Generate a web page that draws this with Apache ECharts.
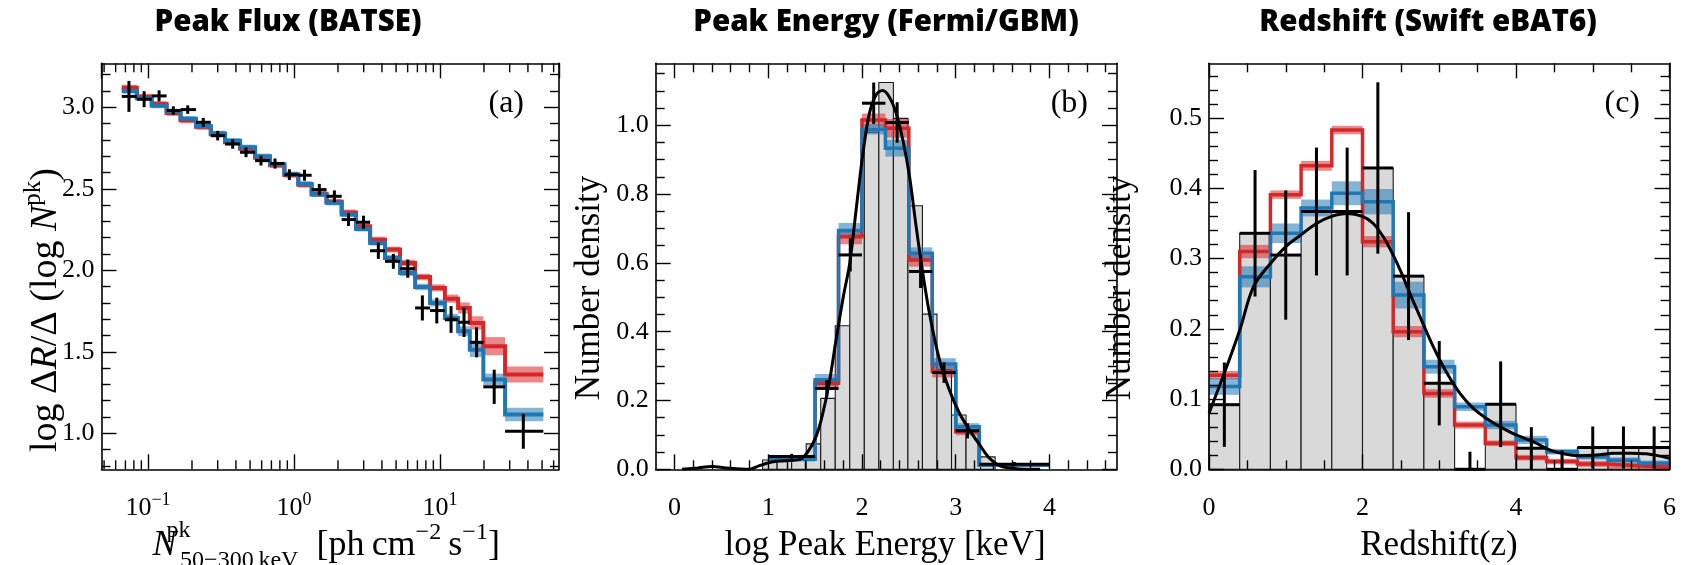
<!DOCTYPE html>
<html>
<head>
<meta charset="utf-8">
<title>GRB population model fits</title>
<script src="https://cdn.jsdelivr.net/npm/echarts@6.0.0/dist/echarts.min.js"></script>
<style>
html,body{margin:0;padding:0;background:#ffffff;}
#chart{width:1690px;height:565px;}
</style>
</head>
<body>
<div id="chart"></div>
<script>
// ================= Panel (a): Peak Flux (BATSE) =================
const aEdges = [0.0661, 0.0838, 0.106, 0.134, 0.167, 0.213, 0.269, 0.337, 0.427, 0.541, 0.685, 0.859, 1.07, 1.32, 1.67, 2.12, 2.66, 3.32, 4.20, 5.32, 6.75, 8.55, 10.8, 13.3, 16.0, 19.8, 27.9, 51.0];
const aX = [0.074, 0.094, 0.119, 0.149, 0.187, 0.239, 0.30, 0.38, 0.469, 0.594, 0.741, 0.929, 1.18, 1.49, 1.89, 2.36, 2.99, 3.78, 4.79, 6.01, 7.57, 9.5, 11.9, 14.6, 17.8, 23.5, 37.2];
const aY = [3.067, 3.05, 3.07, 2.98, 2.986, 2.908, 2.826, 2.775, 2.724, 2.673, 2.655, 2.587, 2.583, 2.495, 2.454, 2.311, 2.295, 2.12, 2.055, 2.01, 1.769, 1.753, 1.698, 1.681, 1.558, 1.285, 1.012];
const aErr = [0.095, 0.049, 0.034, 0.026, 0.026, 0.027, 0.029, 0.029, 0.03, 0.03, 0.031, 0.033, 0.034, 0.035, 0.036, 0.039, 0.04, 0.05, 0.046, 0.056, 0.077, 0.079, 0.082, 0.09, 0.092, 0.105, 0.107];
const aRed = [3.12, 3.065, 3.02, 2.965, 2.92, 2.88, 2.835, 2.785, 2.745, 2.69, 2.645, 2.585, 2.525, 2.47, 2.42, 2.355, 2.27, 2.188, 2.127, 2.045, 1.959, 1.892, 1.826, 1.769, 1.677, 1.534, 1.36];
const aRedErr = [0.018, 0.018, 0.018, 0.018, 0.018, 0.018, 0.018, 0.018, 0.018, 0.018, 0.018, 0.018, 0.018, 0.018, 0.018, 0.018, 0.018, 0.018, 0.018, 0.02, 0.02, 0.022, 0.025, 0.034, 0.041, 0.056, 0.049];
const aBlue = [3.10, 3.055, 3.01, 2.975, 2.93, 2.885, 2.84, 2.795, 2.755, 2.70, 2.65, 2.59, 2.53, 2.465, 2.414, 2.342, 2.254, 2.168, 2.076, 1.984, 1.898, 1.80, 1.708, 1.626, 1.513, 1.33, 1.115];
const aBlueErr = [0.016, 0.016, 0.016, 0.016, 0.016, 0.016, 0.016, 0.016, 0.016, 0.016, 0.016, 0.016, 0.016, 0.016, 0.016, 0.016, 0.016, 0.016, 0.018, 0.02, 0.02, 0.022, 0.025, 0.03, 0.045, 0.036, 0.041];
const aXMinor = [0.05, 0.06, 0.07, 0.08, 0.09, 0.2, 0.3, 0.4, 0.5, 0.6, 0.7, 0.8, 0.9, 2, 3, 4, 5, 6, 7, 8, 9, 20, 30, 40, 50, 60];
const aYMajor = [1.0, 1.5, 2.0, 2.5, 3.0];
const aYMinor = [0.8, 0.9, 1.1, 1.2, 1.3, 1.4, 1.6, 1.7, 1.8, 1.9, 2.1, 2.2, 2.3, 2.4, 2.6, 2.7, 2.8, 2.9, 3.1, 3.2];

// ================= Panel (b): Peak Energy (Fermi/GBM) =================
const bHistEdges = [0.94, 1.095, 1.25, 1.405, 1.56, 1.715, 1.87, 2.025, 2.18, 2.335, 2.49, 2.645, 2.8, 2.955, 3.11, 3.265, 3.42];
const bHist = [0.027, 0.03, 0.03, 0.074, 0.206, 0.417, 0.68, 0.98, 1.124, 1.02, 0.766, 0.451, 0.29, 0.158, 0.11, 0.036];
const bEdges = [1.0, 1.5, 1.75, 2.0, 2.25, 2.5, 2.75, 3.0, 3.25, 4.0];
const bX = [1.25, 1.625, 1.875, 2.125, 2.375, 2.625, 2.875, 3.125, 3.625];
const bY = [0.037, 0.235, 0.623, 1.064, 1.008, 0.575, 0.281, 0.112, 0.015];
const bErr = [0.008, 0.024, 0.048, 0.06, 0.059, 0.048, 0.03, 0.022, 0.006];
const bRed = [0.032, 0.25, 0.676, 1.015, 0.991, 0.608, 0.284, 0.109, 0.013];
const bRedErr = [0.006, 0.015, 0.022, 0.019, 0.027, 0.019, 0.017, 0.01, 0.004];
const bBlue = [0.029, 0.26, 0.694, 0.988, 0.933, 0.628, 0.306, 0.124, 0.012];
const bBlueErr = [0.006, 0.017, 0.022, 0.015, 0.024, 0.017, 0.017, 0.01, 0.004];
const bKdeX = [0.08, 0.25, 0.4, 0.55, 0.7, 0.8, 0.9, 1.05, 1.19, 1.33, 1.42, 1.51, 1.58, 1.65, 1.72, 1.8, 1.87, 1.94, 2.01, 2.08, 2.15, 2.22, 2.29, 2.365, 2.436, 2.507, 2.578, 2.649, 2.72, 2.827, 2.933, 3.04, 3.147, 3.253, 3.36, 3.467, 3.6, 3.75, 3.9];
const bKdeY = [0.0, 0.004, 0.008, 0.004, 0.001, 0.0, 0.01, 0.022, 0.025, 0.028, 0.05, 0.095, 0.16, 0.25, 0.37, 0.5, 0.6, 0.76, 0.918, 1.035, 1.088, 1.101, 1.083, 1.035, 0.957, 0.851, 0.705, 0.57, 0.453, 0.318, 0.23, 0.163, 0.114, 0.072, 0.032, 0.011, 0.003, 0.0, 0.0];
const bXMajor = [0, 1, 2, 3, 4];
const bXMinor = [0.2, 0.4, 0.6, 0.8, 1.2, 1.4, 1.6, 1.8, 2.2, 2.4, 2.6, 2.8, 3.2, 3.4, 3.6, 3.8, 4.2, 4.4, 4.6];
const bYMajor = [0, 0.2, 0.4, 0.6, 0.8, 1.0];
const bYMinor = [0.05, 0.1, 0.15, 0.25, 0.3, 0.35, 0.45, 0.5, 0.55, 0.65, 0.7, 0.75, 0.85, 0.9, 0.95, 1.05, 1.1, 1.15];

// ================= Panel (c): Redshift (Swift eBAT6) =================
const cEdges = [0, 0.4, 0.8, 1.2, 1.6, 2.0, 2.4, 2.8, 3.2, 3.6, 4.0, 4.4, 4.8, 5.2, 5.6, 6.0];
const cX = [0.2, 0.6, 1.0, 1.4, 1.8, 2.2, 2.6, 3.0, 3.4, 3.8, 4.2, 4.6, 5.0, 5.4, 5.8];
const cY = [0.092, 0.336, 0.305, 0.367, 0.367, 0.429, 0.275, 0.1225, 0, 0.0926, 0.03, 0, 0.031, 0.031, 0.031];
const cErr = [0.06, 0.09, 0.092, 0.091, 0.091, 0.122, 0.091, 0.06, 0.025, 0.061, 0.03, 0.027, 0.03, 0.03, 0.03];
const cRed = [0.134, 0.31, 0.391, 0.432, 0.483, 0.324, 0.196, 0.108, 0.063, 0.037, 0.0166, 0.011, 0.0076, 0.005, 0.003];
const cRedErr = [0.006, 0.0095, 0.006, 0.007, 0.006, 0.008, 0.008, 0.006, 0.005, 0.004, 0.004, 0.004, 0.004, 0.004, 0.004];
const cBlue = [0.118, 0.274, 0.336, 0.372, 0.393, 0.381, 0.248, 0.146, 0.089, 0.063, 0.0417, 0.025, 0.018, 0.013, 0.0085];
const cBlueErr = [0.012, 0.015, 0.014, 0.012, 0.017, 0.018, 0.019, 0.01, 0.006, 0.006, 0.006, 0.004, 0.004, 0.004, 0.004];
const cKdeX = [0.0, 0.2, 0.4, 0.58, 0.8, 1.0, 1.2, 1.4, 1.6, 1.8, 2.0, 2.14, 2.27, 2.4, 2.51, 2.58, 2.75, 2.92, 3.1, 3.27, 3.44, 3.62, 3.8, 4.0, 4.23, 4.42, 4.62, 4.83, 5.05, 5.27, 5.49, 5.7, 6.0];
const cKdeY = [0.08, 0.137, 0.198, 0.26, 0.293, 0.317, 0.334, 0.35, 0.36, 0.364, 0.36, 0.35, 0.331, 0.305, 0.279, 0.26, 0.217, 0.175, 0.137, 0.108, 0.087, 0.072, 0.06, 0.049, 0.039, 0.0285, 0.022, 0.0194, 0.0204, 0.0228, 0.023, 0.022, 0.0157];
const cXMajor = [0, 2, 4, 6];
const cXMinor = [0.5, 1, 1.5, 2.5, 3, 3.5, 4.5, 5, 5.5];
const cYMajor = [0, 0.1, 0.2, 0.3, 0.4, 0.5];
const cYMinor = [0.02, 0.04, 0.06, 0.08, 0.12, 0.14, 0.16, 0.18, 0.22, 0.24, 0.26, 0.28, 0.32, 0.34, 0.36, 0.38, 0.42, 0.44, 0.46, 0.48, 0.52, 0.54, 0.56];

// ================= Styling =================
const SERIF = '"Liberation Serif", "DejaVu Serif", serif';
const SANS = '"Open Sans", Lato, "Noto Sans", sans-serif';
const RED = '#d62728', BLUE = '#1f77b4';
const RED_BAND = 'rgba(214,39,40,0.55)', BLUE_BAND = 'rgba(31,119,180,0.55)';
const HIST_FILL = '#d9d9d9';
const TICK_FS = 26, TITLE_FS = 35;

const grids = [
  {left: 101.5, top: 63.3, width: 457.5, height: 406},
  {left: 655.7, top: 63.3, width: 461.3, height: 406},
  {left: 1209, top: 63.3, width: 460.5, height: 406}
];

const LINE = {show: true, onZero: false, lineStyle: {color: '#000', width: 1.6}};
const NOLINE = {show: false, onZero: false};
function tick(vals, len) {
  const t = {show: true, inside: true, length: len, lineStyle: {color: '#000', width: 1.4}};
  if (vals) t.customValues = vals;
  return t;
}
const labelBase = {color: '#000', fontFamily: SERIF, fontSize: TICK_FS};

function valueX(grid, min, max, major, minor, fmt) {
  const c = {gridIndex: grid, type: 'value', min, max, z: 10, splitLine: {show: false}, axisPointer: {show: false}};
  return [
    Object.assign({}, c, {position: 'bottom', axisLine: LINE, axisTick: tick(major, 15),
      axisLabel: Object.assign({show: true, customValues: major, formatter: fmt, margin: 26}, labelBase)}),
    Object.assign({}, c, {position: 'top', axisLine: LINE, axisTick: tick(major, 15), axisLabel: {show: false}}),
    Object.assign({}, c, {position: 'bottom', axisLine: NOLINE, axisTick: tick(minor, 9), axisLabel: {show: false}}),
    Object.assign({}, c, {position: 'top', axisLine: NOLINE, axisTick: tick(minor, 9), axisLabel: {show: false}})
  ];
}
function logX(grid, min, max) {
  const c = {gridIndex: grid, type: 'log', logBase: 10, min, max, z: 10, splitLine: {show: false}, axisPointer: {show: false}};
  const fmt = function (v) {
    const e = Math.round(Math.log10(v));
    return '{b|10}{s|' + (e < 0 ? '\u2212' + (-e) : e) + '}';
  };
  return [
    Object.assign({}, c, {position: 'bottom', axisLine: LINE, axisTick: tick(null, 15),
      axisLabel: {show: true, showMinLabel: false, showMaxLabel: false, formatter: fmt, margin: 22,
        rich: {b: Object.assign({}, labelBase), s: {color: '#000', fontFamily: SERIF, fontSize: 18, padding: [0, 0, 16, 0]}}}}),
    Object.assign({}, c, {position: 'top', axisLine: LINE, axisTick: tick(null, 15), axisLabel: {show: false}}),
    Object.assign({}, c, {show: false}),
    Object.assign({}, c, {show: false})
  ];
}
function valueY(grid, min, max, major, minor, fmt) {
  const c = {gridIndex: grid, type: 'value', min, max, z: 10, splitLine: {show: false}, axisPointer: {show: false}};
  return [
    Object.assign({}, c, {position: 'left', axisLine: LINE, axisTick: tick(major, 15),
      axisLabel: Object.assign({show: true, customValues: major, formatter: fmt, margin: 7}, labelBase)}),
    Object.assign({}, c, {position: 'right', axisLine: LINE, axisTick: tick(major, 15), axisLabel: {show: false}}),
    Object.assign({}, c, {position: 'left', axisLine: NOLINE, axisTick: tick(minor, 9), axisLabel: {show: false}}),
    Object.assign({}, c, {position: 'right', axisLine: NOLINE, axisTick: tick(minor, 9), axisLabel: {show: false}})
  ];
}
const f1 = v => v.toFixed(1);
const f0 = v => String(Math.round(v));

const xAxes = [].concat(
  logX(0, 0.048, 65.3),
  valueX(1, -0.2, 4.72, bXMajor, bXMinor, f0),
  valueX(2, 0, 6, cXMajor, cXMinor, f0)
);
const yAxes = [].concat(
  valueY(0, 0.779, 3.27, aYMajor, aYMinor, f1),
  valueY(1, 0, 1.18, bYMajor, bYMinor, f1),
  valueY(2, 0, 0.578, cYMajor, cYMinor, f1)
);

// ================= Series builders =================
function histSeries(ax, edges, vals) {
  return {type: 'custom', xAxisIndex: ax, yAxisIndex: ax, silent: true, z: 2,
    data: vals.map((v, i) => [edges[i], edges[i + 1], v]),
    renderItem: function (p, api) {
      const a = api.coord([api.value(0), api.value(2)]);
      const b = api.coord([api.value(1), 0]);
      return {type: 'rect', shape: {x: a[0], y: a[1], width: b[0] - a[0], height: b[1] - a[1]},
        style: {fill: HIST_FILL, stroke: '#1a1a1a', lineWidth: 1.1}};
    }};
}
function bandSeries(ax, edges, vals, errs, color, z) {
  return {type: 'custom', xAxisIndex: ax, yAxisIndex: ax, silent: true, z: z,
    data: vals.map((v, i) => [edges[i], edges[i + 1], v - errs[i], v + errs[i]]),
    renderItem: function (p, api) {
      const a = api.coord([api.value(0), api.value(3)]);
      const b = api.coord([api.value(1), api.value(2)]);
      return {type: 'rect', shape: {x: a[0], y: a[1], width: b[0] - a[0], height: b[1] - a[1]},
        style: {fill: color}};
    }};
}
function stepSeries(ax, edges, vals, color, w, z) {
  const data = vals.map((v, i) => [edges[i], v]);
  data.push([edges[edges.length - 1], vals[vals.length - 1]]);
  return {type: 'line', step: 'end', xAxisIndex: ax, yAxisIndex: ax, data: data, silent: true, z: z,
    symbol: 'none', showSymbol: false, lineStyle: {color: color, width: w, join: 'miter'}};
}
function kdeSeries(ax, xs, ys) {
  return {type: 'line', xAxisIndex: ax, yAxisIndex: ax, silent: true, z: 6, smooth: 0.35,
    data: xs.map((x, i) => [x, ys[i]]), symbol: 'none', showSymbol: false,
    lineStyle: {color: '#000', width: 3}};
}
function crossSeries(ax, edges, xs, ys, errs, w) {
  return {type: 'custom', xAxisIndex: ax, yAxisIndex: ax, silent: true, z: 7,
    data: ys.map((y, i) => [edges[i], edges[i + 1], y, xs[i], errs[i]]),
    renderItem: function (p, api) {
      const y = api.value(2), e = api.value(4);
      const l = api.coord([api.value(0), y]);
      const r = api.coord([api.value(1), y]);
      const t = api.coord([api.value(3), y + e]);
      const b = api.coord([api.value(3), Math.max(0, y - e)]);
      return {type: 'group', children: [
        {type: 'line', shape: {x1: l[0], y1: l[1], x2: r[0], y2: r[1]}, style: {stroke: '#000', lineWidth: w}},
        {type: 'line', shape: {x1: t[0], y1: t[1], x2: t[0], y2: b[1]}, style: {stroke: '#000', lineWidth: w}}
      ]};
    }};
}
function logMinorTicks(ax, vals) {
  return {type: 'custom', xAxisIndex: ax, yAxisIndex: ax, silent: true, z: 10,
    data: vals.map(v => [v, 2]),
    renderItem: function (p, api) {
      const cs = p.coordSys;
      const x = api.coord([api.value(0), 2])[0];
      const st = {stroke: '#000', lineWidth: 1.4};
      return {type: 'group', children: [
        {type: 'line', shape: {x1: x, y1: cs.y + cs.height, x2: x, y2: cs.y + cs.height - 9}, style: st},
        {type: 'line', shape: {x1: x, y1: cs.y, x2: x, y2: cs.y + 9}, style: st}
      ]};
    }};
}

const series = [
  // (a)
  bandSeries(0, aEdges, aRed, aRedErr, RED_BAND, 3),
  stepSeries(0, aEdges, aRed, RED, 4, 4),
  bandSeries(0, aEdges, aBlue, aBlueErr, BLUE_BAND, 4),
  stepSeries(0, aEdges, aBlue, BLUE, 4, 5),
  crossSeries(0, aEdges, aX, aY, aErr, 3),
  logMinorTicks(0, aXMinor),
  // (b)
  histSeries(4, bHistEdges, bHist),
  bandSeries(4, bEdges, bRed, bRedErr, RED_BAND, 3),
  stepSeries(4, bEdges, bRed, RED, 3.5, 4),
  bandSeries(4, bEdges, bBlue, bBlueErr, BLUE_BAND, 4),
  stepSeries(4, bEdges, bBlue, BLUE, 3.5, 5),
  kdeSeries(4, bKdeX, bKdeY),
  crossSeries(4, bEdges, bX, bY, bErr, 3),
  // (c)
  histSeries(8, cEdges, cY),
  bandSeries(8, cEdges, cRed, cRedErr, RED_BAND, 3),
  stepSeries(8, cEdges, cRed, RED, 3.5, 4),
  bandSeries(8, cEdges, cBlue, cBlueErr, BLUE_BAND, 4),
  stepSeries(8, cEdges, cBlue, BLUE, 3.5, 5),
  kdeSeries(8, cKdeX, cKdeY),
  crossSeries(8, cEdges, cX, cY, cErr, 3)
];

// ================= Text (titles, axis titles, panel tags) =================
function txt(x, y, text, extra, el) {
  return Object.assign({type: 'text', x: x, y: y, silent: true, z: 100,
    style: Object.assign({text: text, fill: '#000', fontFamily: SERIF, fontSize: TITLE_FS, align: 'center', verticalAlign: 'middle'}, extra)}, el || {});
}
const titleStyle = {fontFamily: SANS, fontWeight: 800, fontSize: 29.5, fill: '#000'};
const serifTok = (fs, extra) => Object.assign({fontFamily: SERIF, fontSize: fs, fill: '#000', color: '#000'}, extra || {});

const graphics = [
  txt(288, 23, 'Peak Flux (BATSE)', titleStyle),
  txt(886, 23, 'Peak Energy (Fermi/GBM)', titleStyle),
  txt(1428, 23, 'Redshift (Swift eBAT6)', titleStyle),
  txt(524, 104, '(a)', {fontSize: 32, align: 'right'}),
  txt(1088, 104, '(b)', {fontSize: 32, align: 'right'}),
  txt(1640, 104, '(c)', {fontSize: 32, align: 'right'}),
  // x titles
  txt(326, 546, '{n|N}{p|pk}{sb|50\u2212300\u2009keV}{r|\u2002[ph\u2009cm}{sp|\u22122}{r|\u2009s}{sp|\u22121}{r|]}', {
    rich: {
      n: serifTok(36, {fontStyle: 'italic', width: 25}),
      p: serifTok(24, {width: 3, padding: [0, 0, 30, 0]}),
      sb: serifTok(24, {padding: [30, 0, 0, 0]}),
      r: serifTok(36),
      sp: serifTok(24, {padding: [0, 0, 26, 0]})
    }
  }),
  txt(885, 546, 'log Peak Energy [keV]'),
  txt(1439, 546, 'Redshift(z)'),
  // y titles
  txt(46, 310, 'log \u0394{it|R}/\u0394 (log {it|N}{sp|pk})', {
    fontSize: 38,
    rich: {it: serifTok(38, {fontStyle: 'italic'}), sp: serifTok(25, {padding: [0, 0, 26, 0]})}
  }, {rotation: Math.PI / 2}),
  txt(590, 288, 'Number density', {}, {rotation: Math.PI / 2}),
  txt(1121, 288, 'Number density', {}, {rotation: Math.PI / 2})
];

const chart = echarts.init(document.getElementById('chart'), null, {renderer: 'canvas'});
chart.setOption({
  animation: false,
  backgroundColor: '#ffffff',
  textStyle: {fontFamily: SERIF},
  grid: grids.map(g => Object.assign({containLabel: false, outerBoundsMode: 'none'}, g)),
  xAxis: xAxes,
  yAxis: yAxes,
  series: series,
  graphic: graphics
});
</script>
</body>
</html>
